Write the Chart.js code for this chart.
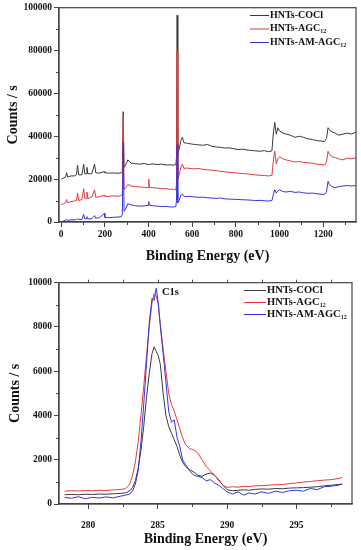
<!DOCTYPE html>
<html>
<head>
<meta charset="utf-8">
<script src="https://cdn.jsdelivr.net/npm/chart.js@4.4.1/dist/chart.umd.min.js"></script>
<style>
  html, body { margin: 0; padding: 0; background: #fff; }
  .panel { position: absolute; left: 0; width: 361px; height: 275px; }
</style>
</head>
<body>
<div class="panel" style="top:0"><canvas id="survey" width="361" height="275"></canvas></div>
<div class="panel" style="top:275px"><canvas id="c1s" width="361" height="275"></canvas></div>
<script>
// series names (the "12" is drawn as a subscript in the legend)
const seriesNames = ['HNTs-COCl', 'HNTs-AGC', 'HNTs-AM-AGC'];
const seriesSubs = ['', '12', '12'];
const seriesColors = ['#3a3a3a', '#e8393c', '#3434de'];

// survey spectrum
const surveyEnergy = [0,10,20,25,30,45,60,70,75,80,95,103,108,115,118,122,140,153,158,175,198,200,215,240,260,275,280,284,288,295,305,320,340,360,380,398,401,404,420,440,460,480,500,515,525,528,531,534,540,548,555,562,575,590,610,630,650,670,690,710,730,750,770,790,810,830,850,870,890,910,930,950,965,972,978,985,992,1000,1015,1030,1050,1070,1090,1110,1130,1150,1170,1190,1205,1215,1222,1228,1240,1255,1270,1290,1310,1330,1350];
const surveyCOCl = [20000,20500,21000,23000,21000,21500,21500,22000,26500,22000,22000,27000,22500,22500,25500,22500,22500,27000,23000,22800,23500,23000,22800,22900,22700,23000,23500,51500,25500,26500,29000,27500,27200,27000,27300,26800,27000,26900,27100,26800,27000,26600,26700,26500,26800,30000,96500,32000,34000,38000,39500,37000,36800,36500,36200,36000,35800,36200,35300,35000,34800,34500,34600,34200,33800,34000,33600,33400,33200,33000,33300,32800,33200,42000,46500,41000,44000,42500,41500,41000,40500,39500,40000,39500,38800,38500,38000,37800,37500,39000,44000,43000,42000,41500,40500,41000,41500,41000,42000];
const surveyAGC = [8000,8500,9000,10500,9000,9500,9800,10000,13500,10000,10500,15500,11000,11000,14000,11000,11500,15000,11500,11800,12500,12000,12000,12200,12000,12300,13000,49500,15000,16000,17500,16800,16500,16300,16200,16000,20000,16200,16000,15800,15600,15500,15300,15200,15000,18000,80000,20000,22000,25500,27000,25000,25200,25000,24800,25000,24500,24300,24200,24000,23600,23400,23200,23000,22800,22600,22500,22200,22000,21800,21700,21500,21800,29000,33000,27000,29500,30500,29500,29000,28500,28000,28200,27800,27600,27500,27000,26800,26500,28000,33000,31500,30500,30000,29500,29000,29800,29500,30000];
const surveyAMAGC = [0,500,800,1200,800,1000,1000,1200,1500,1200,1200,3500,1500,1500,2500,1500,1500,3000,1800,2000,4000,2200,2000,2200,2300,2500,3500,37000,5000,6000,8500,8000,7600,7400,7500,7800,9500,7800,7600,7400,7200,7300,7000,7000,7200,10000,36000,9000,10000,12500,13000,12000,11800,12000,11700,11500,11600,11300,11200,11000,11200,10800,10700,10600,10500,10400,10300,10200,10000,10100,9900,9800,10000,13000,15000,13500,14500,15000,14200,14000,14300,13800,14000,13600,13400,13500,13200,13000,12800,14000,19000,17500,16500,16000,16500,16800,17000,16800,17000];
const surveyXTicks = [0, 200, 400, 600, 800, 1000, 1200];
const surveyYTicks = [0, 20000, 40000, 60000, 80000, 100000];

// C1s region
const c1sEnergy = [278.3,278.8,279.3,279.8,280.3,280.8,281.3,281.8,282.3,282.7,283.0,283.2,283.4,283.6,283.8,284.0,284.2,284.4,284.6,284.75,284.9,285.05,285.2,285.4,285.6,285.8,286.0,286.2,286.4,286.6,286.8,287.0,287.3,287.6,287.9,288.2,288.5,288.8,289.1,289.4,289.7,290.0,290.4,290.8,291.2,291.6,292.0,292.5,293.0,293.5,294.0,294.5,295.0,295.5,296.0,296.5,297.0,297.5,298.0,298.3];
const c1sCOCl = [420,430,420,440,430,450,440,460,480,500,600,750,1050,1600,2400,3500,4800,5900,6800,7100,6900,6700,6300,5000,4000,3500,3200,2900,2600,2200,1900,1700,1550,1450,1300,1250,1350,1400,1300,1100,850,650,600,620,640,620,660,680,670,700,690,720,730,740,760,780,820,850,880,900];
const c1sAGC = [580,600,590,610,600,620,610,640,650,700,900,1300,1900,2800,4000,5300,6700,8000,9100,9500,9400,9000,8100,7000,6000,5000,4500,4200,3800,3400,3000,2700,2500,2450,2300,2000,1700,1500,1300,1050,850,750,780,760,800,790,820,830,850,870,880,920,950,990,1020,1050,1080,1100,1150,1200];
const c1sAMAGC = [300,260,330,240,300,270,320,280,350,400,450,600,900,1500,2800,4500,6300,8200,9300,9200,9750,9100,8000,6800,5500,4200,3700,3800,3000,2600,2000,1800,1500,1300,1250,1200,1050,1100,950,850,700,550,450,550,400,500,450,550,480,580,520,600,620,580,700,650,780,800,850,900];
const c1sXTicks = [280, 285, 290, 295];
const c1sYTicks = [0, 2000, 4000, 6000, 8000, 10000];

const serif = '"Liberation Serif", "Times New Roman", serif';
const axisColor = '#444';

function minorValues(ticks, min, max) {
  const step = ticks[1] - ticks[0];
  const out = [];
  for (let v = ticks[0] - step / 2; v <= max; v += step) {
    if (v >= min) out.push(v);
  }
  return out;
}

const framePlugin = {
  id: 'frame',
  afterDraw(chart, args, opts) {
    const ctx = chart.ctx;
    const a = chart.chartArea;
    const xs = chart.scales.x;
    const ys = chart.scales.y;
    ctx.save();
    ctx.strokeStyle = axisColor;
    ctx.lineWidth = 1.2;
    ctx.strokeRect(a.left, a.top, a.right - a.left, a.bottom - a.top);

    // minor ticks
    ctx.lineWidth = 1;
    ctx.beginPath();
    minorValues(opts.xTicks, xs.min, xs.max).forEach(function (v) {
      const px = Math.round(xs.getPixelForValue(v)) + 0.5;
      ctx.moveTo(px, a.bottom);
      ctx.lineTo(px, a.bottom + 3);
    });
    minorValues(opts.yTicks, ys.min, ys.max).forEach(function (v) {
      const py = Math.round(ys.getPixelForValue(v)) + 0.5;
      ctx.moveTo(a.left, py);
      ctx.lineTo(a.left - 3, py);
    });
    if (opts.topTicks) {
      opts.xTicks.concat(minorValues(opts.xTicks, xs.min, xs.max)).forEach(function (v) {
        const px = Math.round(xs.getPixelForValue(v)) + 0.5;
        ctx.moveTo(px, a.top);
        ctx.lineTo(px, a.top - 3);
      });
    }
    ctx.stroke();

    // legend with subscripts
    const lg = opts.legend;
    ctx.textBaseline = 'middle';
    ctx.textAlign = 'left';
    for (let i = 0; i < seriesNames.length; i++) {
      const y = lg.y + i * lg.dy;
      ctx.strokeStyle = seriesColors[i];
      ctx.lineWidth = 1;
      ctx.beginPath();
      ctx.moveTo(lg.x, y + 0.5);
      ctx.lineTo(lg.x + lg.len, y + 0.5);
      ctx.stroke();
      ctx.fillStyle = '#111';
      ctx.font = 'bold ' + lg.size + 'px ' + serif;
      const tx = lg.x + lg.len + 1;
      ctx.fillText(seriesNames[i], tx, y);
      if (seriesSubs[i]) {
        const w = ctx.measureText(seriesNames[i]).width;
        ctx.font = 'bold ' + Math.round(lg.size * 0.6) + 'px ' + serif;
        ctx.fillText(seriesSubs[i], tx + w, y + lg.size * 0.3);
      }
    }

    if (opts.note) {
      ctx.font = 'bold 10.5px ' + serif;
      ctx.fillStyle = '#111';
      ctx.fillText(opts.note.text, opts.note.x, opts.note.y);
    }
    ctx.restore();
  },
};

function makeChart(id, energy, values, xTicks, yTicks, cfg) {
  const datasets = values.map(function (vals, i) {
    return {
      label: seriesNames[i] + (seriesSubs[i] ? '\u2081\u2082' : ''),
      data: energy.map(function (e, j) { return { x: e, y: vals[j] }; }),
      borderColor: seriesColors[i],
      borderWidth: 1,
      pointRadius: 0,
      tension: 0,
      fill: false,
      order: values.length - i,
    };
  });

  const tickFont = { family: serif, size: 9.5, weight: 'bold' };
  const titleFont = { family: serif, size: 14, weight: 'bold' };
  const plain = function (v) { return String(v); };

  return new Chart(document.getElementById(id), {
    type: 'line',
    data: { datasets: datasets },
    plugins: [framePlugin],
    options: {
      responsive: false,
      animation: false,
      devicePixelRatio: 1,
      layout: { padding: { top: 7, right: cfg.padRight, left: 0, bottom: 0 } },
      plugins: {
        legend: { display: false },
        tooltip: { enabled: false },
        frame: {
          xTicks: xTicks,
          yTicks: yTicks,
          legend: cfg.legend,
          note: cfg.note,
          topTicks: cfg.topTicks,
        },
      },
      scales: {
        x: {
          type: 'linear',
          min: cfg.xMin,
          max: cfg.xMax,
          afterBuildTicks: function (s) { s.ticks = xTicks.map(function (v) { return { value: v }; }); },
          afterFit: function (s) { s.height = cfg.xAxisHeight; },
          grid: { drawOnChartArea: false, tickLength: 5, color: axisColor },
          border: { color: axisColor, width: 1.2 },
          ticks: { font: tickFont, color: '#111', padding: cfg.xTickPad, maxRotation: 0, callback: plain },
          title: { display: true, text: 'Binding Energy (eV)', font: titleFont, color: '#111', padding: { top: 0, bottom: cfg.xTitlePad } },
        },
        y: {
          type: 'linear',
          min: cfg.yMin,
          max: cfg.yMax,
          afterBuildTicks: function (s) { s.ticks = yTicks.map(function (v) { return { value: v }; }); },
          afterFit: function (s) { s.width = 59; },
          grid: { drawOnChartArea: false, tickLength: 5, color: axisColor },
          border: { color: axisColor, width: 1.2 },
          ticks: { font: tickFont, color: '#111', padding: 2, callback: plain },
          title: { display: true, text: 'Counts / s', font: titleFont, color: '#111', padding: { top: cfg.yTitlePad, bottom: 0 } },
        },
      },
    },
  });
}

makeChart('survey', surveyEnergy, [surveyCOCl, surveyAGC, surveyAMAGC], surveyXTicks, surveyYTicks, {
  xMin: -10, xMax: 1350, yMin: 0, yMax: 100000,
  padRight: 5, xAxisHeight: 53, xTickPad: 2, xTitlePad: 10, yTitlePad: 5,
  legend: { x: 250, y: 15, dy: 13.5, len: 19, size: 10 },
  topTicks: false,
});

makeChart('c1s', c1sEnergy, [c1sCOCl, c1sAGC, c1sAMAGC], c1sXTicks, c1sYTicks, {
  xMin: 277.9, xMax: 299, yMin: 0, yMax: 10000,
  padRight: 9, xAxisHeight: 46, xTickPad: 11, xTitlePad: 2, yTitlePad: 7,
  legend: { x: 244, y: 15, dy: 12, len: 22, size: 10.5 },
  note: { text: 'C1s', x: 162, y: 17 },
  topTicks: true,
});
</script>
</body>
</html>
